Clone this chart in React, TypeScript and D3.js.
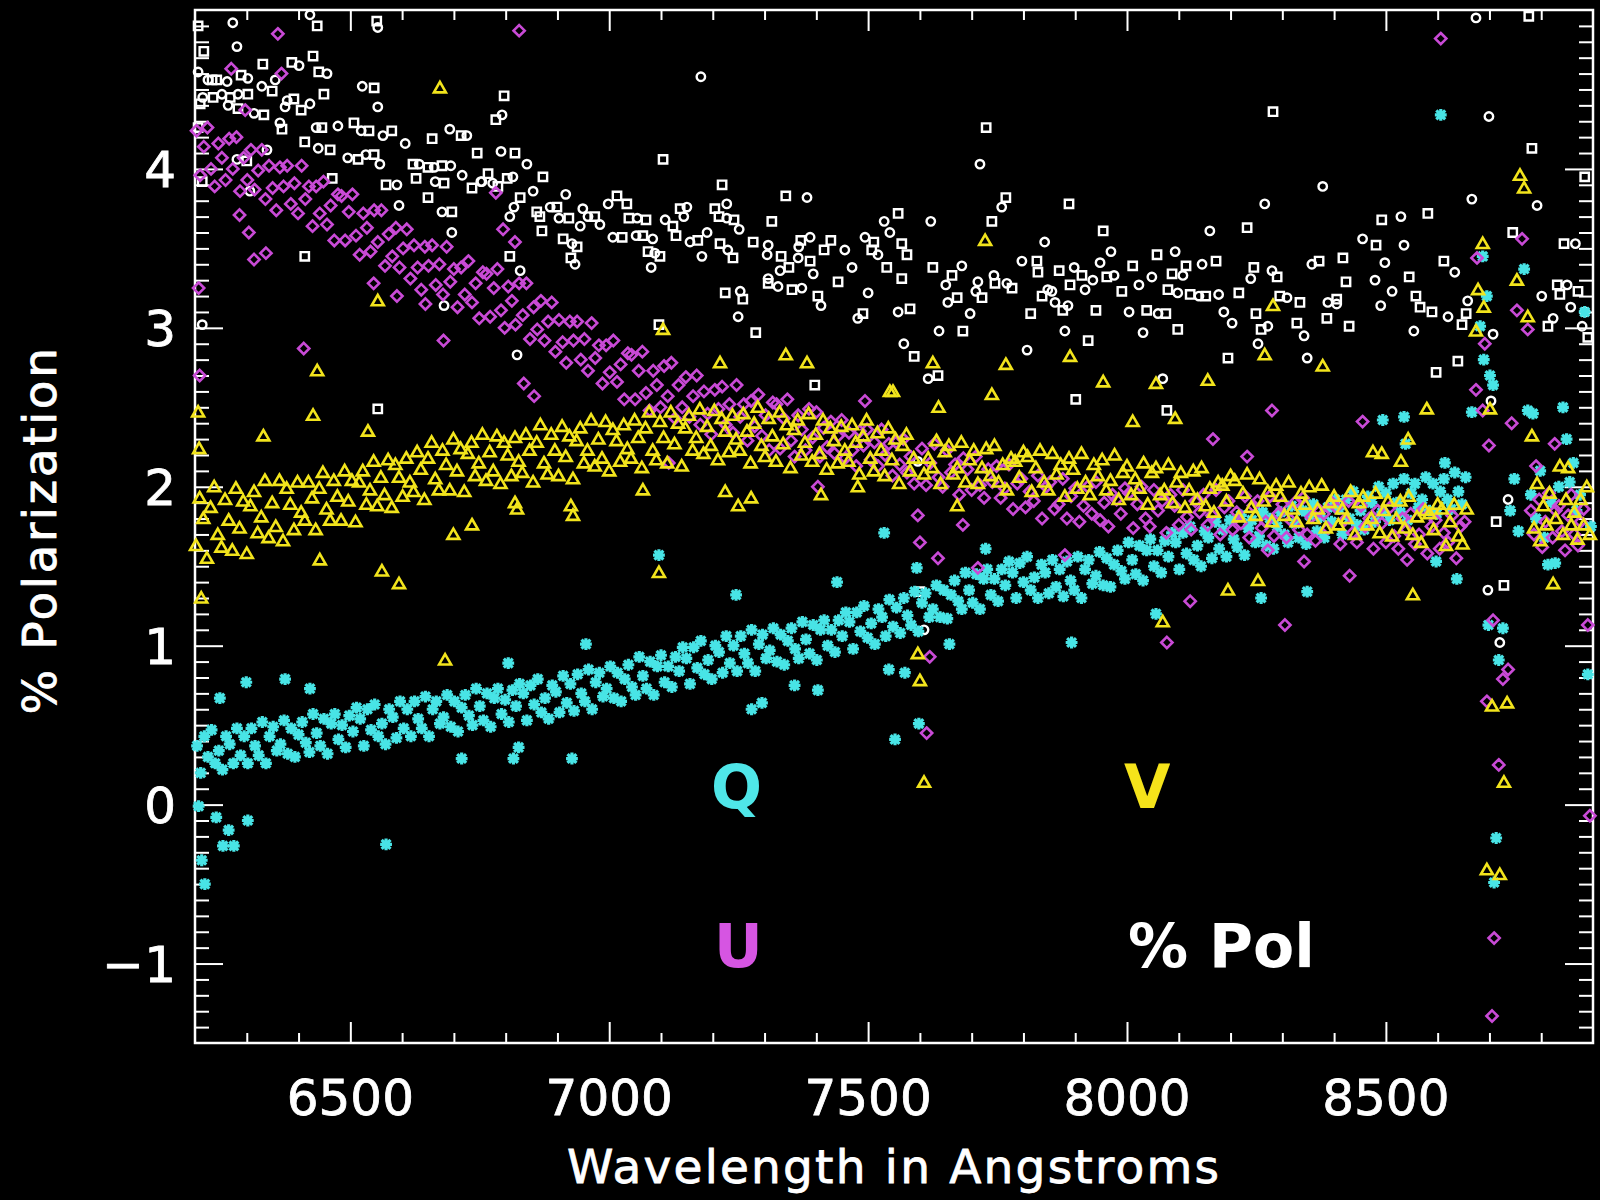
import React, { useEffect, useRef } from "react";
import * as d3 from "d3";

type Pt = [number, number];

// Stokes Q (cyan asterisks), wavelength in Angstroms vs percent
const qStokes: Pt[] = [
  [6204,0.37],[6211,0.20],[6218,0.43],[6225,0.30],[6232,0.47],[6239,0.26],[6246,0.34],[6253,0.22],[6260,0.43],[6267,0.38],[6274,0.26],[6281,0.48],[6288,0.31],[6295,0.43],[6302,0.26],[6309,0.48],[6316,0.37],[6323,0.31],[6330,0.52],[6337,0.26],[6344,0.43],[6351,0.49],[6358,0.34],[6365,0.38],[6372,0.53],[6379,0.32],[6386,0.48],[6393,0.30],[6400,0.44],[6407,0.52],[6414,0.39],[6421,0.33],[6428,0.57],[6435,0.45],[6442,0.37],[6449,0.54],[6456,0.32],[6463,0.51],[6470,0.57],[6477,0.41],[6484,0.50],[6491,0.36],[6498,0.56],[6505,0.46],[6512,0.61],
  [6519,0.54],[6526,0.37],[6533,0.60],[6540,0.47],[6547,0.63],[6554,0.43],[6561,0.51],[6568,0.38],[6575,0.60],[6582,0.55],[6589,0.42],[6596,0.65],[6603,0.48],[6610,0.60],[6617,0.43],[6624,0.65],[6631,0.54],[6638,0.48],[6645,0.68],[6652,0.43],[6659,0.60],[6666,0.65],[6673,0.51],[6680,0.55],[6687,0.69],[6694,0.49],[6701,0.65],[6708,0.46],[6715,0.61],[6722,0.69],[6729,0.56],[6736,0.50],[6743,0.73],[6750,0.62],[6757,0.53],[6764,0.70],[6771,0.49],[6778,0.67],[6785,0.73],[6792,0.57],[6799,0.66],[6806,0.52],[6813,0.72],[6820,0.62],[6827,0.76],
  [6834,0.70],[6841,0.53],[6848,0.75],[6855,0.63],[6862,0.79],[6869,0.58],[6876,0.67],[6883,0.54],[6890,0.75],[6897,0.71],[6904,0.58],[6911,0.81],[6918,0.64],[6925,0.76],[6932,0.59],[6939,0.82],[6946,0.70],[6953,0.65],[6960,0.85],[6967,0.60],[6974,0.77],[6981,0.83],[6988,0.68],[6995,0.73],[7002,0.87],[7009,0.67],[7016,0.83],[7023,0.65],[7030,0.79],[7037,0.88],[7044,0.74],[7051,0.69],[7058,0.93],[7065,0.81],[7072,0.73],[7079,0.90],[7086,0.69],[7093,0.87],[7100,0.94],[7107,0.77],[7114,0.87],[7121,0.74],[7128,0.93],[7135,0.84],[7142,0.99],
  [7149,0.92],[7156,0.76],[7163,0.99],[7170,0.86],[7177,1.03],[7184,0.82],[7191,0.91],[7198,0.79],[7205,1.00],[7212,0.96],[7219,0.83],[7226,1.06],[7233,0.89],[7240,1.00],[7247,0.84],[7254,1.06],[7261,0.95],[7268,0.89],[7275,1.10],[7282,0.84],[7289,1.01],[7296,1.07],[7303,0.92],[7310,0.97],[7317,1.11],[7324,0.90],[7331,1.07],[7338,0.88],[7345,1.03],[7352,1.11],[7359,0.98],[7366,0.92],[7373,1.15],[7380,1.04],[7387,0.95],[7394,1.13],[7401,0.91],[7408,1.10],[7415,1.16],[7422,1.00],[7429,1.10],[7436,0.96],[7443,1.16],[7450,1.06],[7457,1.21],
  [7464,1.15],[7471,0.98],[7478,1.21],[7485,1.09],[7492,1.25],[7499,1.05],[7506,1.14],[7513,1.01],[7520,1.23],[7527,1.18],[7534,1.06],[7541,1.29],[7548,1.12],[7555,1.24],[7562,1.08],[7569,1.30],[7576,1.19],[7583,1.13],[7590,1.34],[7597,1.09],[7604,1.27],[7611,1.33],[7618,1.18],[7625,1.23],[7632,1.38],[7639,1.18],[7646,1.35],[7653,1.17],[7660,1.32],[7667,1.41],[7674,1.28],[7681,1.23],[7688,1.46],[7695,1.35],[7702,1.27],[7709,1.45],[7716,1.23],[7723,1.42],[7730,1.48],[7737,1.32],[7744,1.42],[7751,1.28],[7758,1.48],[7765,1.38],[7772,1.53],
  [7779,1.46],[7786,1.30],[7793,1.52],[7800,1.40],[7807,1.56],[7814,1.35],[7821,1.43],[7828,1.30],[7835,1.51],[7842,1.46],[7849,1.33],[7856,1.54],[7863,1.37],[7870,1.48],[7877,1.31],[7884,1.53],[7891,1.41],[7898,1.35],[7905,1.56],[7912,1.30],[7919,1.48],[7926,1.54],[7933,1.39],[7940,1.44],[7947,1.59],[7954,1.38],[7961,1.55],[7968,1.37],[7975,1.51],[7982,1.60],[7989,1.47],[7996,1.42],[8003,1.65],[8010,1.54],[8017,1.45],[8024,1.63],[8031,1.41],[8038,1.60],[8045,1.67],[8052,1.50],[8059,1.60],[8066,1.46],[8073,1.66],[8080,1.56],[8087,1.71],
  [8094,1.65],[8101,1.48],[8108,1.71],[8115,1.58],[8122,1.75],[8129,1.54],[8136,1.63],[8143,1.50],[8150,1.72],[8157,1.68],[8164,1.55],[8171,1.78],[8178,1.61],[8185,1.73],[8192,1.56],[8199,1.79],[8206,1.67],[8213,1.62],[8220,1.82],[8227,1.57],[8234,1.74],[8241,1.79],[8248,1.65],[8255,1.69],[8262,1.84],[8269,1.63],[8276,1.80],[8283,1.61],[8290,1.75],[8297,1.84],[8304,1.70],[8311,1.65],[8318,1.88],[8325,1.77],[8332,1.68],[8339,1.85],[8346,1.64],[8353,1.82],[8360,1.89],[8367,1.72],[8374,1.81],[8381,1.68],[8388,1.87],[8395,1.78],[8402,1.92],
  [8409,1.86],[8416,1.70],[8423,1.92],[8430,1.80],[8437,1.97],[8444,1.76],[8451,1.85],[8458,1.73],[8465,1.94],[8472,1.90],[8479,1.78],[8486,2.00],[8493,1.84],[8500,1.96],[8507,1.79],[8514,2.02],[8521,1.90],[8528,1.84],[8535,2.05],[8542,1.79],[8549,1.96],[8556,2.02],[8563,1.87],[8570,1.92],[8577,2.06],[8584,1.85],[8591,2.02],[8598,1.83],[8605,1.97],[8612,2.05],[8619,1.92],[8626,1.86],[8633,2.09],[8640,1.97],[8647,1.89],[8654,2.06],
  [6207,-0.01],[6213,-0.35],[6219,-0.50],[6241,-0.08],[6248,0.67],[6254,-0.26],[6265,-0.16],[6275,-0.26],[6299,0.77],[6302,-0.10],[6374,0.79],[6422,0.73],[6569,-0.25],[6715,0.29],[6805,0.89],[6815,0.29],[6825,0.36],[6928,0.29],[6955,1.01],[7096,1.57],[7245,1.32],[7275,0.60],[7295,0.64],[7358,0.75],[7403,0.72],[7440,1.40],[7531,1.71],[7540,0.85],[7552,0.41],[7571,0.83],[7594,1.49],[7598,0.51],[7657,1.01],[7727,1.61],[7893,1.02],[8056,1.20],[8259,1.30],[8348,1.34],[8494,2.42],[8535,2.44],[8538,2.27],[8597,1.53],[8606,4.34],[8614,2.15],[8637,1.42],
  [8666,2.47],[8682,3.01],[8687,3.45],[8689,2.80],[8695,3.20],[8698,1.13],[8701,2.70],[8707,2.64],[8709,-0.49],[8713,-0.21],[8718,0.91],[8726,1.11],[8740,1.85],[8748,2.05],[8756,1.72],[8767,3.37],[8774,2.48],[8780,1.95],[8784,2.46],[8790,1.80],[8798,2.10],[8806,1.68],[8813,1.51],[8820,1.90],[8827,1.52],[8834,2.00],[8842,2.50],[8849,2.30],[8855,2.03],[8862,2.15],[8868,1.85],[8875,1.95],[8884,3.10],[8890,0.82],[8896,1.75],
];

// Stokes U (magenta diamonds)
const uStokes: Pt[] = [
  [6203,4.24],[6210,3.96],[6217,4.14],[6224,4.26],[6231,4.00],[6238,3.89],[6245,4.16],[6252,4.07],[6259,3.93],[6266,4.19],[6273,4.00],[6280,4.20],[6287,3.86],[6294,4.07],
  [6301,3.93],[6308,4.12],[6315,3.87],[6322,3.99],[6329,4.12],[6336,3.81],[6343,4.02],[6350,3.88],[6357,3.74],[6364,4.01],[6371,3.89],[6378,4.02],[6385,3.78],[6392,3.91],[6399,3.72],
  [6406,4.02],[6413,3.81],[6420,3.89],[6427,3.64],[6434,3.89],[6441,3.72],[6448,3.92],[6455,3.65],[6462,3.77],[6469,3.55],[6476,3.84],[6483,3.83],[6490,3.55],[6497,3.73],
  [6504,3.84],[6511,3.58],[6518,3.46],[6525,3.72],[6532,3.63],[6539,3.48],[6546,3.74],[6553,3.54],[6560,3.74],[6567,3.39],[6574,3.59],[6581,3.45],[6588,3.63],[6595,3.38],
  [6602,3.50],[6609,3.62],[6616,3.31],[6623,3.52],[6630,3.38],[6637,3.24],[6644,3.51],[6651,3.39],[6658,3.52],[6665,3.27],[6672,3.40],[6679,3.21],[6686,3.51],[6693,3.29],
  [6700,3.37],[6707,3.13],[6714,3.38],[6721,3.21],[6728,3.42],[6735,3.16],[6742,3.28],[6749,3.06],[6756,3.35],[6763,3.34],[6770,3.07],[6777,3.25],[6784,3.37],[6791,3.11],[6798,3.00],
  [6805,3.26],[6812,3.17],[6819,3.02],[6826,3.28],[6833,3.08],[6840,3.28],[6847,2.93],[6854,3.13],[6861,2.99],[6868,3.17],[6875,2.92],[6882,3.04],[6889,3.16],[6896,2.85],
  [6903,3.05],[6910,2.91],[6917,2.78],[6924,3.04],[6931,2.92],[6938,3.04],[6945,2.80],[6952,2.93],[6959,2.73],[6966,3.03],[6973,2.81],[6980,2.89],[6987,2.65],[6994,2.89],
  [7001,2.72],[7008,2.92],[7015,2.66],[7022,2.77],[7029,2.55],[7036,2.84],[7043,2.83],[7050,2.55],[7057,2.73],[7064,2.85],[7071,2.59],[7078,2.48],[7085,2.73],[7092,2.64],[7099,2.50],
  [7106,2.76],[7113,2.57],[7120,2.78],[7127,2.43],[7134,2.64],[7141,2.50],[7148,2.69],[7155,2.44],[7162,2.57],[7169,2.70],[7176,2.39],[7183,2.60],[7190,2.46],[7197,2.33],
  [7204,2.61],[7211,2.49],[7218,2.63],[7225,2.39],[7232,2.52],[7239,2.34],[7246,2.64],[7253,2.44],[7260,2.52],[7267,2.29],[7274,2.54],[7281,2.38],[7288,2.58],[7295,2.32],
  [7302,2.45],[7309,2.23],[7316,2.53],[7323,2.52],[7330,2.24],[7337,2.43],[7344,2.55],[7351,2.29],[7358,2.19],[7365,2.45],[7372,2.36],[7379,2.23],[7386,2.49],[7393,2.31],
  [7400,2.47],[7407,2.19],[7414,2.37],[7421,2.25],[7428,2.41],[7435,2.21],[7442,2.32],[7449,2.42],[7456,2.18],[7463,2.34],[7470,2.23],[7477,2.13],[7484,2.35],[7491,2.26],[7498,2.36],
  [7505,2.17],[7512,2.28],[7519,2.13],[7526,2.36],[7533,2.20],[7540,2.27],[7547,2.07],[7554,2.28],[7561,2.14],[7568,2.30],[7575,2.09],[7582,2.19],[7589,2.02],
  [7604,2.24],[7612,2.01],[7620,2.15],[7628,2.27],[7636,2.06],[7644,2.00],[7652,2.23],[7660,2.09],[7668,2.14],[7676,1.95],[7684,2.18],[7692,2.11],[7700,1.98],[7708,2.19],[7716,2.01],[7724,1.93],[7732,2.11],[7740,2.03],[7748,2.13],[7756,1.93],[7764,1.99],[7772,2.14],[7780,1.86],[7788,2.02],[7796,2.05],[7804,1.87],[7812,1.97],[7820,1.91],[7828,2.07],[7836,1.80],[7844,2.00],[7852,2.03],[7860,1.86],[7868,1.89],[7876,2.05],[7884,1.80],[7892,1.94],[7900,1.99],[7908,1.78],[7916,1.88],[7924,2.00],[7932,1.83],[7940,2.03],[7948,1.79],[7956,1.90],[7964,1.75],[7972,1.95],[7980,1.92],[7988,1.83],[7996,1.99],
  [8004,1.96],[8012,1.74],[8020,1.89],[8028,2.00],[8036,1.80],[8044,1.75],[8052,1.98],[8060,1.85],[8068,1.91],[8076,1.71],[8084,1.95],[8092,1.88],[8100,1.76],[8108,1.98],[8116,1.81],[8124,1.73],[8132,1.91],[8140,1.84],[8148,1.95],[8156,1.76],[8164,1.82],[8172,1.98],[8180,1.70],[8188,1.87],[8196,1.91],[8204,1.73],[8212,1.84],[8220,1.77],[8228,1.94],[8236,1.68],[8244,1.88],[8252,1.91],[8260,1.74],[8268,1.78],[8276,1.94],[8284,1.69],[8292,1.83],[8300,1.89],[8308,1.68],[8316,1.79],[8324,1.90],[8332,1.73],[8340,1.93],[8348,1.70],[8356,1.81],[8364,1.66],[8372,1.85],[8380,1.83],[8388,1.74],[8396,1.90],
  [8404,1.87],[8412,1.64],[8420,1.79],[8428,1.91],[8436,1.71],[8444,1.65],[8452,1.88],[8460,1.75],[8468,1.80],[8476,1.61],[8484,1.85],[8492,1.77],[8500,1.65],[8508,1.87],[8516,1.69],[8524,1.61],[8532,1.80],[8540,1.73],[8548,1.83],[8556,1.64],[8564,1.70],[8572,1.86],[8580,1.58],[8588,1.75],[8596,1.79],[8604,1.61],[8612,1.71],[8620,1.65],[8628,1.82],[8636,1.55],[8644,1.75],[8652,1.78],
  [6207,3.25],[6209,2.70],[6270,4.63],[6286,3.71],[6297,4.37],[6304,3.60],[6314,3.43],[6337,3.47],[6360,4.85],[6367,4.60],[6410,2.87],[6545,3.28],[6590,3.20],[6645,3.15],[6680,2.92],[6781,3.85],[6795,3.62],[6818,3.54],[6826,4.87],[6835,2.65],[6855,2.57],[7115,2.15],[7403,2.00],[7494,2.54],
  [7596,1.82],[7600,1.65],[7613,0.45],[7619,0.93],[7635,1.55],[7683,1.76],[7712,1.49],[7880,1.57],[8077,1.02],[8122,1.28],[8166,2.30],[8232,2.19],[8272,1.60],[8280,2.48],[8305,1.13],[8342,1.53],[8430,1.44],[8455,2.41],[8541,1.54],[8606,4.82],
  [8674,2.61],[8676,3.44],[8687,2.48],[8691,2.90],[8695,0.65],[8699,2.26],[8705,-1.33],[8707,1.16],[8709,-0.84],[8718,0.25],[8726,0.79],[8736,0.85],[8743,2.40],[8753,3.11],[8763,3.56],[8774,2.99],[8780,1.85],[8786,1.70],[8790,2.13],[8796,1.92],[8802,1.62],[8808,1.78],[8815,1.96],[8822,1.68],[8826,2.27],[8828,1.85],[8834,1.88],[8840,1.72],[8846,1.60],[8852,1.82],[8858,1.95],[8864,1.70],[8871,1.63],[8876,1.78],[8882,1.86],[8890,1.13],[8894,-0.07],
];

// Stokes V (yellow triangles)
const vStokes: Pt[] = [
  [6202,1.63],[6209,1.93],[6216,1.80],[6223,1.55],[6230,1.87],[6237,2.00],[6244,1.70],[6251,1.62],[6258,1.92],[6265,1.79],[6272,1.60],[6279,1.99],[6286,1.74],[6293,1.91],[6300,1.58],[6307,1.88],[6314,1.97],[6321,1.71],[6328,1.81],[6335,2.04],[6342,1.68],[6349,1.90],[6356,1.75],[6363,2.04],[6370,1.66],[6377,1.99],[6384,1.89],[6391,1.73],[6398,2.03],[6405,1.84],
  [6412,1.79],[6419,2.03],[6426,1.93],[6433,1.73],[6440,1.99],[6447,2.09],[6454,1.86],[6461,1.79],[6468,2.04],[6475,1.94],[6482,1.79],[6489,2.10],[6496,1.91],[6503,2.04],[6510,1.78],[6517,2.03],[6524,2.10],[6531,1.89],[6538,1.98],[6545,2.16],[6552,1.88],[6559,2.06],[6566,1.95],[6573,2.17],[6580,1.87],[6587,2.14],[6594,2.06],[6601,1.94],[6608,2.18],[6615,2.03],
  [6622,1.97],[6629,2.22],[6636,2.11],[6643,1.92],[6650,2.18],[6657,2.28],[6664,2.05],[6671,1.98],[6678,2.23],[6685,2.14],[6692,1.98],[6699,2.30],[6706,2.10],[6713,2.24],[6720,1.97],[6727,2.21],[6734,2.28],[6741,2.07],[6748,2.15],[6755,2.33],[6762,2.04],[6769,2.22],[6776,2.10],[6783,2.32],[6790,2.02],[6797,2.28],[6804,2.20],[6811,2.07],[6818,2.31],[6825,2.16],
  [6832,2.09],[6839,2.33],[6846,2.23],[6853,2.03],[6860,2.28],[6867,2.39],[6874,2.15],[6881,2.08],[6888,2.33],[6895,2.23],[6902,2.07],[6909,2.38],[6916,2.19],[6923,2.32],[6930,2.05],[6937,2.29],[6944,2.37],[6951,2.15],[6958,2.23],[6965,2.42],[6972,2.13],[6979,2.30],[6986,2.18],[6993,2.41],[7000,2.10],[7007,2.36],[7014,2.29],[7021,2.16],[7028,2.39],[7035,2.24],
  [7042,2.18],[7049,2.42],[7056,2.31],[7063,2.12],[7070,2.37],[7077,2.47],[7084,2.23],[7091,2.17],[7098,2.41],[7105,2.31],[7112,2.15],[7119,2.47],[7126,2.27],[7133,2.40],[7140,2.13],[7147,2.37],[7154,2.45],[7161,2.23],[7168,2.31],[7175,2.49],[7182,2.21],[7189,2.38],[7196,2.26],[7203,2.48],[7210,2.17],[7217,2.43],[7224,2.35],[7231,2.22],[7238,2.45],[7245,2.30],
  [7252,2.23],[7259,2.46],[7266,2.35],[7273,2.15],[7280,2.40],[7287,2.50],[7294,2.26],[7301,2.19],[7308,2.43],[7315,2.32],[7322,2.16],[7329,2.47],[7336,2.27],[7343,2.39],[7350,2.12],[7357,2.36],[7364,2.42],[7371,2.20],[7378,2.28],[7385,2.46],[7392,2.16],[7399,2.33],[7406,2.21],[7413,2.42],[7420,2.11],[7427,2.37],[7434,2.29],[7441,2.15],[7448,2.38],[7455,2.23],
  [7462,2.16],[7469,2.39],[7476,2.28],[7483,2.08],[7490,2.32],[7497,2.42],[7504,2.18],[7511,2.10],[7518,2.34],[7525,2.23],[7532,2.07],[7539,2.37],[7546,2.17],[7553,2.30],[7560,2.02],[7567,2.26],[7574,2.33],[7581,2.10],[7588,2.18],
  [7608,2.08],[7616,2.18],[7624,2.12],[7632,2.29],[7640,2.02],[7648,2.22],[7656,2.26],[7664,2.08],[7672,2.12],[7680,2.28],[7688,2.03],[7696,2.17],[7704,2.23],[7712,2.02],[7720,2.12],[7728,2.24],[7736,2.07],[7744,2.26],[7752,2.03],[7760,2.14],[7768,1.98],[7776,2.18],[7784,2.16],[7792,2.06],[7800,2.22],[7808,2.19],[7816,1.97],[7824,2.12],[7832,2.23],[7840,2.03],[7848,1.98],[7856,2.21],[7864,2.08],[7872,2.14],[7880,1.94],[7888,2.18],[7896,2.11],[7904,1.99],[7912,2.21],[7920,2.03],[7928,1.95],[7936,2.14],[7944,2.07],[7952,2.17],[7960,1.98],[7968,2.04],[7976,2.20],[7984,1.92],[7992,2.09],[8000,2.13],
  [8008,1.95],[8016,2.05],[8024,1.99],[8032,2.15],[8040,1.89],[8048,2.09],[8056,2.12],[8064,1.95],[8072,1.98],[8080,2.14],[8088,1.90],[8096,2.03],[8104,2.09],[8112,1.87],[8120,1.98],[8128,2.10],[8136,1.92],[8144,2.12],[8152,1.88],[8160,1.99],[8168,1.84],[8176,2.03],[8184,2.01],[8192,1.91],[8200,2.07],[8208,2.04],[8216,1.81],[8224,1.96],[8232,2.08],[8240,1.87],[8248,1.82],[8256,2.05],[8264,1.91],[8272,1.97],[8280,1.78],[8288,2.01],[8296,1.94],[8304,1.82],[8312,2.03],[8320,1.86],[8328,1.78],[8336,1.96],[8344,1.89],[8352,2.00],[8360,1.80],[8368,1.86],[8376,2.01],[8384,1.74],[8392,1.90],[8400,1.94],
  [8408,1.76],[8416,1.86],[8424,1.80],[8432,1.97],[8440,1.70],[8448,1.90],[8456,1.94],[8464,1.76],[8472,1.80],[8480,1.96],[8488,1.71],[8496,1.85],[8504,1.91],[8512,1.69],[8520,1.80],[8528,1.91],[8536,1.74],[8544,1.94],[8552,1.70],[8560,1.81],[8568,1.65],[8576,1.85],[8584,1.83],[8592,1.73],[8600,1.89],[8608,1.86],[8616,1.63],[8624,1.78],[8632,1.89],[8640,1.69],[8648,1.64],[8656,1.86],
  [6206,2.47],[6208,2.24],[6212,1.30],[6332,2.32],[6428,2.45],[6436,2.73],[6441,1.54],[6534,2.35],[6553,3.17],[6561,1.47],[6594,1.39],[6673,4.51],[6683,0.91],[6699,1.70],[6735,1.76],[6818,1.90],[6822,1.86],[6926,1.88],[6930,1.82],[7065,1.98],[7096,1.46],[7104,2.99],[7214,2.78],[7224,1.97],[7249,1.88],[7274,1.93],[7341,2.83],[7382,2.78],[7409,1.95],[7480,2.00],[7542,2.60],[7548,2.60],
  [7596,0.95],[7600,0.78],[7608,0.14],[7625,2.78],[7636,2.50],[7672,1.88],[7726,3.55],[7739,2.58],[7766,2.77],[7890,2.82],[7954,2.66],[8011,2.41],[8056,2.65],[8069,1.15],[8093,2.43],[8156,2.67],[8195,1.35],[8253,1.41],[8266,2.83],[8282,3.14],[8378,2.76],[8475,2.22],[8492,2.21],[8529,2.16],[8543,2.30],[8552,1.32],[8579,2.49],
  [8674,2.98],[8678,3.24],[8687,3.53],[8689,3.13],[8695,-0.41],[8701,2.49],[8705,0.62],[8720,-0.44],[8728,0.14],[8734,0.64],[8753,3.30],[8759,3.96],[8767,3.88],[8774,3.07],[8782,2.32],[8786,1.74],[8792,2.02],[8798,1.66],[8804,1.88],[8810,1.76],[8816,1.96],[8823,1.39],[8828,1.80],[8836,2.13],[8842,1.70],[8848,1.92],[8852,2.12],[8858,1.76],[8864,1.84],[8870,1.67],[8876,1.92],[8882,1.76],[8888,2.00],[8894,1.70],
];

// total percent polarization (white)
const percentPol: Pt[] = [
  [6206,4.90],[6273,4.92],[6436,4.90],[6422,4.97],[6551,4.93],[6553,4.89],[6217,4.74],[6281,4.77],[6428,4.71],[6206,4.61],[6233,4.56],[6225,4.56],[6242,4.56],[6262,4.55],[6289,4.59],[6302,4.57],[6331,4.66],[6355,4.56],[6387,4.67],[6401,4.65],[6439,4.61],[6455,4.60],[6210,4.41],[6215,4.45],[6235,4.45],[6252,4.47],[6268,4.45],[6283,4.47],[6302,4.47],[6329,4.52],[6349,4.49],[6378,4.43],[6391,4.44],[6422,4.41],[6449,4.47],[6264,4.40],[6283,4.38],[6314,4.35],[6333,4.34],[6374,4.39],[6405,4.37],[6523,4.52],[6546,4.51],[6553,4.39],[6206,4.26],[6364,4.29],[6368,4.25],[6434,4.26],[6445,4.26],[6476,4.27],[6507,4.29],[6521,4.24],[6536,4.24],[6563,4.21],[6580,4.24],[6606,4.16],[6658,4.19],[6692,4.25],[6714,4.21],[6725,4.21],[6745,4.10],[6281,4.06],[6300,4.05],[6339,4.12],[6412,4.17],[6438,4.13],[6461,4.12],[6495,4.07],[6515,4.06],[6530,4.09],[6546,4.09],[6557,4.03],[6569,3.90],[6590,3.90],[6621,4.03],[6633,4.03],[6650,4.01],[6662,4.01],[6677,4.02],[6694,4.02],[6627,3.94],[6664,3.92],[6681,3.91],[6716,3.96],[6735,3.88],[6752,3.92],[6214,3.92],[6306,3.86],[6465,3.94],[6594,3.77],[6650,3.82],[6677,3.73],[6696,3.73],[6696,3.60],[6412,3.45],[6681,3.14],[6553,2.49],[6214,3.02],
  [6797,4.46],[6793,4.34],[6781,4.31],[7177,4.58],[7104,4.06],[6791,4.11],[6818,4.10],[6841,4.03],[6872,3.95],[6814,3.95],[6803,3.94],[6754,3.92],[6766,3.97],[6775,3.91],[6785,3.89],[6853,3.86],[6828,3.82],[6916,3.84],[7218,3.90],[7227,3.78],[7034,3.78],[6998,3.78],[7015,3.83],[6816,3.76],[6860,3.73],[6886,3.76],[6899,3.76],[6949,3.75],[7137,3.75],[7150,3.76],[7204,3.75],[6808,3.70],[6866,3.70],[6903,3.69],[6922,3.69],[6959,3.70],[6972,3.70],[6982,3.65],[7038,3.69],[7054,3.69],[7071,3.68],[7108,3.68],[7123,3.64],[7144,3.70],[7212,3.70],[7227,3.69],[7241,3.68],[7251,3.62],[7278,3.54],[7307,3.52],[6870,3.61],[6944,3.64],[6911,3.56],[6928,3.53],[6938,3.51],[7007,3.57],[7025,3.57],[7052,3.58],[7065,3.58],[7084,3.56],[7129,3.58],[7156,3.54],[7171,3.55],[7189,3.60],[7214,3.53],[7229,3.49],[7239,3.44],[7179,3.45],[7075,3.48],[7088,3.47],[7098,3.45],[7081,3.38],[6926,3.44],[6934,3.40],[6808,3.45],[6828,3.36],[7224,3.22],[7253,3.23],[7258,3.18],[7249,3.07],[7283,2.97],[7307,3.31],[7096,3.02],[6822,2.83],
  [7728,4.26],[7716,4.03],[7341,3.83],[7382,3.82],[7766,3.82],[7758,3.76],[7314,3.67],[7531,3.67],[7558,3.72],[7621,3.67],[7739,3.67],[7841,3.54],[7370,3.55],[7388,3.57],[7428,3.55],[7494,3.57],[7511,3.54],[7542,3.60],[7565,3.53],[7366,3.51],[7415,3.49],[7455,3.49],[7507,3.49],[7305,3.46],[7332,3.45],[7365,3.44],[7388,3.42],[7469,3.38],[7575,3.46],[7797,3.42],[7826,3.42],[7519,3.46],[7536,3.38],[7330,3.36],[7347,3.38],[7394,3.34],[7625,3.38],[7681,3.39],[7828,3.35],[7743,3.33],[7307,3.28],[7326,3.26],[7353,3.24],[7372,3.25],[7442,3.29],[7500,3.22],[7565,3.31],[7650,3.27],[7662,3.33],[7712,3.29],[7745,3.28],[7768,3.28],[7778,3.25],[7708,3.23],[7672,3.19],[7654,3.16],[7720,3.19],[7697,3.09],[7836,3.20],[7847,3.24],[7403,3.20],[7409,3.14],[7581,3.12],[7558,3.10],[7490,3.09],[7480,3.06],[7814,3.09],[7637,2.98],[7683,2.98],[7569,2.90],[7589,2.82],[7807,2.86],[7397,2.64],[7616,2.68],[7635,2.70],[7596,2.16],[7600,1.34],[7608,1.10],
  [8282,4.36],[8378,3.89],[7888,3.78],[8266,3.78],[7954,3.61],[8160,3.61],[8232,3.63],[7969,3.48],[8058,3.46],[8093,3.48],[8172,3.42],[7948,3.41],[7869,3.36],[7898,3.38],[7913,3.33],[7934,3.30],[7961,3.32],[7975,3.33],[8011,3.39],[8048,3.32],[8087,3.34],[8108,3.33],[8114,3.39],[8145,3.40],[8245,3.38],[8280,3.36],[8290,3.32],[8357,3.40],[8371,3.42],[7855,3.23],[7890,3.27],[7919,3.24],[7990,3.23],[8023,3.27],[8079,3.24],[8098,3.22],[8122,3.21],[8139,3.20],[8152,3.20],[8177,3.21],[8216,3.22],[8239,3.31],[8295,3.20],[8309,3.19],[8334,3.16],[8388,3.16],[8405,3.18],[7861,3.16],[7876,3.11],[7886,3.14],[7940,3.11],[8004,3.10],[8038,3.11],[8060,3.09],[8075,3.09],[8187,3.10],[8249,3.09],[8203,3.03],[8259,2.99],[8272,3.01],[8328,3.03],[8342,2.95],[8386,3.06],[7880,2.98],[7925,2.92],[8031,2.97],[8098,2.99],[8253,2.90],[8195,2.81],[8348,2.81],[7901,2.55],[8069,2.68],[8077,2.48],
  [8674,4.95],[8776,4.96],[8699,4.33],[8782,4.13],[8666,3.81],[8884,3.95],[8792,3.77],[8745,3.60],[8703,2.54],[8597,2.72],[8736,1.92],[8713,1.78],[8697,1.35],[8728,1.38],[8720,1.02],[8639,2.79],[8707,2.96],[8492,3.68],[8529,3.70],[8581,3.72],[8455,3.56],[8481,3.52],[8535,3.52],[8417,3.44],[8498,3.41],[8612,3.42],[8633,3.35],[8423,3.29],[8479,3.30],[8545,3.32],[8512,3.23],[8558,3.20],[8490,3.14],[8566,3.13],[8405,3.15],[8589,3.10],[8620,3.07],[8655,3.09],[8658,3.17],[8429,3.01],[8554,2.98],[8647,3.02],[8801,3.20],[8831,3.27],[8850,3.27],[8844,3.53],[8866,3.53],[8836,3.21],[8857,3.13],[8871,3.23],[8823,3.06],[8813,3.01],[8879,3.01],[8890,2.94],[8884,3.10],
];

const xMajorTicks = [6500, 7000, 7500, 8000, 8500];
const yMajorTicks = [-1, 0, 1, 2, 3, 4];

const FONT = "'DejaVu Sans', sans-serif";

// IDL style asterisk: a "+" laid over an "x"
const asterisk: d3.SymbolType = {
  draw(context, size) {
    const r = Math.sqrt(size) / 2;
    const d = r * 0.75;
    context.moveTo(-r, 0);
    context.lineTo(r, 0);
    context.moveTo(0, -r);
    context.lineTo(0, r);
    context.moveTo(-d, -d);
    context.lineTo(d, d);
    context.moveTo(-d, d);
    context.lineTo(d, -d);
  },
};

const App: React.FC = () => {
  const svgRef = useRef<SVGSVGElement | null>(null);

  useEffect(() => {
    const width = 1600;
    const height = 1200;
    const margin = { top: 10, right: 7, bottom: 157, left: 195 };

    const x = d3
      .scaleLinear()
      .domain([6200, 8900])
      .range([margin.left, width - margin.right]);
    const y = d3
      .scaleLinear()
      .domain([-1.5, 5])
      .range([height - margin.bottom, margin.top]);

    const svg = d3.select(svgRef.current);
    svg.selectAll("*").remove();

    svg.append("rect").attr("width", width).attr("height", height).attr("fill", "#000");

    const xMinor = d3.range(6300, 8900, 100).filter((v) => v % 500 !== 0);
    const yMinor = d3.range(-14, 50).map((v) => v / 10).filter((v) => Math.abs(v - Math.round(v)) > 0.01);

    const tickAxis = (g: d3.Selection<SVGGElement, unknown, null, undefined>) => {
      g.select(".domain").remove();
      g.selectAll("text").remove();
      g.selectAll("line").attr("stroke", "#fff").attr("stroke-width", 2);
    };

    const bottom = height - margin.bottom;
    const right = width - margin.right;

    svg.append("g").attr("transform", `translate(0,${bottom})`)
      .call(d3.axisBottom(x).tickValues(xMinor).tickSize(-10)).call(tickAxis);
    svg.append("g").attr("transform", `translate(0,${bottom})`)
      .call(d3.axisBottom(x).tickValues(xMajorTicks).tickSize(-21)).call(tickAxis);
    svg.append("g").attr("transform", `translate(0,${margin.top})`)
      .call(d3.axisTop(x).tickValues(xMinor).tickSize(-10)).call(tickAxis);
    svg.append("g").attr("transform", `translate(0,${margin.top})`)
      .call(d3.axisTop(x).tickValues(xMajorTicks).tickSize(-21)).call(tickAxis);

    svg.append("g").attr("transform", `translate(${margin.left},0)`)
      .call(d3.axisLeft(y).tickValues(yMinor).tickSize(-14)).call(tickAxis);
    svg.append("g").attr("transform", `translate(${margin.left},0)`)
      .call(d3.axisLeft(y).tickValues(yMajorTicks).tickSize(-28)).call(tickAxis);
    svg.append("g").attr("transform", `translate(${right},0)`)
      .call(d3.axisRight(y).tickValues(yMinor).tickSize(-14)).call(tickAxis);
    svg.append("g").attr("transform", `translate(${right},0)`)
      .call(d3.axisRight(y).tickValues(yMajorTicks).tickSize(-28)).call(tickAxis);

    svg
      .append("rect")
      .attr("x", margin.left)
      .attr("y", margin.top)
      .attr("width", right - margin.left)
      .attr("height", bottom - margin.top)
      .attr("fill", "none")
      .attr("stroke", "#fff")
      .attr("stroke-width", 2.5);

    // tick labels
    svg
      .append("g")
      .selectAll("text")
      .data(xMajorTicks)
      .join("text")
      .attr("x", (d) => x(d))
      .attr("y", 1115)
      .attr("text-anchor", "middle")
      .attr("fill", "#fff")
      .attr("stroke", "#fff")
      .attr("stroke-width", 0.8)
      .style("font-family", FONT)
      .style("font-size", "50px")
      .text((d) => String(d));

    svg
      .append("g")
      .selectAll("text")
      .data(yMajorTicks)
      .join("text")
      .attr("x", 176)
      .attr("y", (d) => y(d) + 18)
      .attr("text-anchor", "end")
      .attr("fill", "#fff")
      .attr("stroke", "#fff")
      .attr("stroke-width", 0.8)
      .style("font-family", FONT)
      .style("font-size", "50px")
      .text((d) => (d < 0 ? `\u2212${Math.abs(d)}` : String(d)));

    svg
      .append("text")
      .attr("x", (margin.left + right) / 2)
      .attr("y", 1183)
      .attr("text-anchor", "middle")
      .attr("fill", "#fff")
      .attr("stroke", "#fff")
      .attr("stroke-width", 0.8)
      .style("font-family", FONT)
      .style("font-size", "47px")
      .style("letter-spacing", "2.2px")
      .text("Wavelength in Angstroms");

    svg
      .append("text")
      .attr("transform", `translate(56,530) rotate(-90)`)
      .attr("text-anchor", "middle")
      .attr("fill", "#fff")
      .attr("stroke", "#fff")
      .attr("stroke-width", 0.8)
      .style("font-family", FONT)
      .style("font-size", "47px")
      .style("letter-spacing", "2.6px")
      .text("% Polarization");

    // data
    const plot = svg.append("g");

    const polSquare = d3.symbol().type(d3.symbolSquare).size(70)();
    const polCircle = d3.symbol().type(d3.symbolCircle).size(56)();
    plot
      .append("g")
      .selectAll("path")
      .data(percentPol)
      .join("path")
      .attr("transform", (d) => `translate(${x(d[0])},${y(d[1])})`)
      .attr("d", (_, i) => (i % 2 === 0 ? polSquare : polCircle))
      .attr("fill", "none")
      .attr("stroke", "#fff")
      .attr("stroke-width", 2.4);

    plot
      .append("g")
      .selectAll("path")
      .data(qStokes)
      .join("path")
      .attr("transform", (d) => `translate(${x(d[0])},${y(d[1])})`)
      .attr("d", d3.symbol().type(asterisk).size(140)())
      .attr("fill", "none")
      .attr("stroke", "#48e4e6")
      .attr("stroke-width", 3.2);

    plot
      .append("g")
      .selectAll("path")
      .data(uStokes)
      .join("path")
      .attr("transform", (d) => `translate(${x(d[0])},${y(d[1])})`)
      .attr("d", d3.symbol().type(d3.symbolDiamond2).size(80)())
      .attr("fill", "none")
      .attr("stroke", "#c94ad6")
      .attr("stroke-width", 2.6);

    plot
      .append("g")
      .selectAll("path")
      .data(vStokes)
      .join("path")
      .attr("transform", (d) => `translate(${x(d[0])},${y(d[1]) + 1})`)
      .attr("d", d3.symbol().type(d3.symbolTriangle).size(62)())
      .attr("fill", "none")
      .attr("stroke", "#f2e41c")
      .attr("stroke-width", 2.6);

    // legend labels
    const legend = [
      { label: "Q", color: "#4fe6e8", x: 711, y: 808 },
      { label: "V", color: "#f5e31a", x: 1124, y: 808 },
      { label: "U", color: "#d655e2", x: 714, y: 967 },
      { label: "% Pol", color: "#ffffff", x: 1128, y: 967 },
    ];
    svg
      .append("g")
      .selectAll("text")
      .data(legend)
      .join("text")
      .attr("x", (d) => d.x)
      .attr("y", (d) => d.y)
      .attr("fill", (d) => d.color)
      .style("font-family", FONT)
      .style("font-weight", "bold")
      .style("font-size", "60px")
      .text((d) => d.label);
  }, []);

  return (
    <div style={{ position: "absolute", left: 0, top: 0, width: 1600, height: 1200 }}>
      <svg ref={svgRef} width={1600} height={1200} style={{ display: "block" }} />
    </div>
  );
};

export default App;
